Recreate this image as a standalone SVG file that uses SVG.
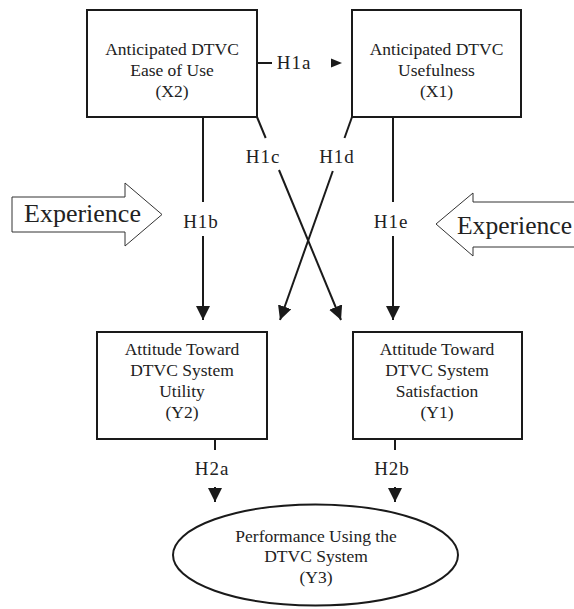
<svg xmlns="http://www.w3.org/2000/svg" width="574" height="609" viewBox="0 0 574 609">
<style>
.box{fill:#fff;stroke:#1a1a1a;stroke-width:2}
.t{font-family:"Liberation Serif","Times New Roman",serif;font-size:17.5px;fill:#222;text-anchor:middle}
.h{font-family:"Liberation Serif","Times New Roman",serif;font-size:19px;letter-spacing:1px;fill:#222;text-anchor:middle}
.exp{fill:#fff;stroke:#333;stroke-width:1}
.et{font-family:"Liberation Serif","Times New Roman",serif;font-size:26px;fill:#222}
.ln{stroke:#1a1a1a;stroke-width:2;fill:none}
</style>
<defs>
<marker id="ah" markerUnits="userSpaceOnUse" markerWidth="14" markerHeight="14" refX="14" refY="7" orient="auto">
<path d="M0,0 L14,7 L0,14 z" fill="#1a1a1a"/>
</marker>
</defs>
<rect width="574" height="609" fill="#fff"/>
<g id="experience-left">
<polygon class="exp" points="12,197 125,197 125,183 162,214.5 125,246 125,232 12,232"/>
<text class="et" x="24" y="222">Experience</text>
</g>
<g id="experience-right">
<polygon class="exp" points="436,224 473,193 473,202 580,202 580,247 473,247 473,256"/>
<text class="et" x="457" y="234" textLength="115" lengthAdjust="spacingAndGlyphs">Experience</text>
</g>
<g id="connectors">
<line class="ln" x1="257" y1="63" x2="272" y2="63"/>
<polygon points="331,58.5 342,63 331,67.5" fill="#1a1a1a"/>
<text class="h" x="294" y="69">H1a</text>
<line class="ln" x1="203" y1="117" x2="203" y2="202"/>
<line class="ln" x1="203" y1="236" x2="203" y2="320" marker-end="url(#ah)"/>
<text class="h" x="201" y="228">H1b</text>
<line class="ln" x1="393" y1="117" x2="393" y2="202"/>
<line class="ln" x1="393" y1="236" x2="393" y2="320" marker-end="url(#ah)"/>
<text class="h" x="391" y="228">H1e</text>
<line class="ln" x1="257" y1="117" x2="265.7" y2="138"/>
<line class="ln" x1="279" y1="170" x2="341" y2="320" marker-end="url(#ah)"/>
<text class="h" x="263" y="163">H1c</text>
<line class="ln" x1="352" y1="117" x2="344.5" y2="138"/>
<line class="ln" x1="332.8" y1="171" x2="280" y2="320" marker-end="url(#ah)"/>
<text class="h" x="337" y="163">H1d</text>
<line class="ln" x1="215" y1="439" x2="215" y2="450"/>
<line class="ln" x1="215" y1="487" x2="215" y2="502" marker-end="url(#ah)"/>
<text class="h" x="212" y="475">H2a</text>
<line class="ln" x1="395" y1="439" x2="395" y2="450"/>
<line class="ln" x1="395" y1="487" x2="395" y2="502" marker-end="url(#ah)"/>
<text class="h" x="392" y="475">H2b</text>
</g>
<g id="X2">
<rect class="box" x="87" y="10" width="170" height="107"/>
<text class="t" x="172" y="55">Anticipated DTVC</text>
<text class="t" x="172" y="76">Ease of Use</text>
<text class="t" x="172" y="97">(X2)</text>
</g>
<g id="X1">
<rect class="box" x="352" y="10" width="169" height="107"/>
<text class="t" x="436.5" y="55">Anticipated DTVC</text>
<text class="t" x="436.5" y="76">Usefulness</text>
<text class="t" x="436.5" y="97">(X1)</text>
</g>
<g id="Y2">
<rect class="box" x="97" y="332" width="170" height="107"/>
<text class="t" x="182" y="355">Attitude Toward</text>
<text class="t" x="182" y="376">DTVC System</text>
<text class="t" x="182" y="397">Utility</text>
<text class="t" x="182" y="418">(Y2)</text>
</g>
<g id="Y1">
<rect class="box" x="353" y="332" width="169" height="107"/>
<text class="t" x="437" y="355">Attitude Toward</text>
<text class="t" x="437" y="376">DTVC System</text>
<text class="t" x="437" y="397">Satisfaction</text>
<text class="t" x="437" y="418">(Y1)</text>
</g>
<g id="Y3">
<ellipse class="box" cx="315.5" cy="555" rx="142.5" ry="50.5"/>
<text class="t" x="316" y="542">Performance Using the</text>
<text class="t" x="316" y="562">DTVC System</text>
<text class="t" x="316" y="583">(Y3)</text>
</g>
</svg>
